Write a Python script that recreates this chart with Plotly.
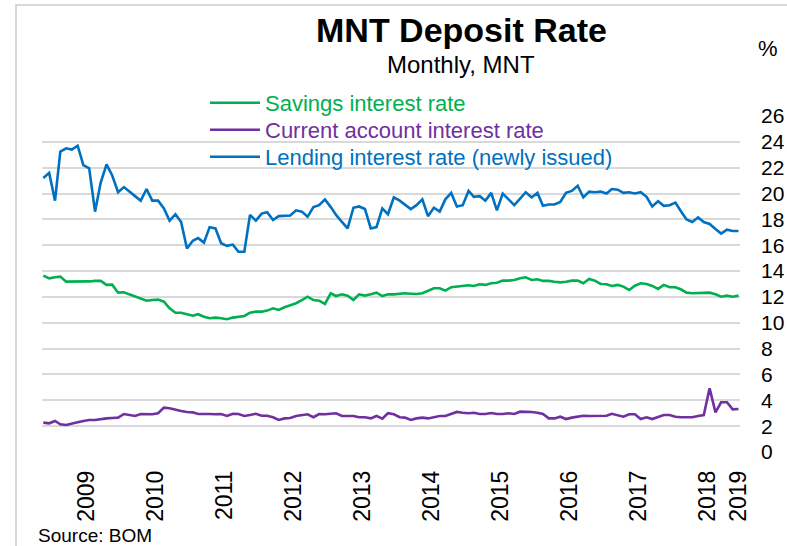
import pandas as pd
import plotly.graph_objects as go

# Monthly observations, Dec 2008 - Jan 2019 (per cent)
months = pd.date_range("2008-12-01", periods=122, freq="MS")

savings_rate = [
    13.65, 13.44, 13.52, 13.57, 13.18, 13.18, 13.16, 13.18, 13.20, 13.24,
    13.24, 12.93, 12.95, 12.33, 12.36, 12.20, 12.02, 11.84, 11.71, 11.76,
    11.79, 11.63, 11.12, 10.78, 10.78, 10.66, 10.55, 10.66, 10.47, 10.35,
    10.40, 10.35, 10.27, 10.40, 10.47, 10.53, 10.78, 10.86, 10.86, 10.94,
    11.12, 10.99, 11.20, 11.38, 11.51, 11.76, 12.02, 11.76, 11.71, 11.46,
    12.28, 12.07, 12.20, 12.10, 11.76, 12.20, 12.10, 12.20, 12.33, 12.07,
    12.20, 12.20, 12.23, 12.28, 12.25, 12.23, 12.28, 12.49, 12.67, 12.67,
    12.49, 12.75, 12.80, 12.85, 12.90, 12.85, 12.98, 12.93, 13.06, 13.10,
    13.26, 13.26, 13.31, 13.44, 13.52, 13.31, 13.37, 13.24, 13.24, 13.18,
    13.13, 13.18, 13.26, 13.26, 13.06, 13.39, 13.26, 13.00, 12.98, 12.85,
    12.93, 12.80, 12.54, 12.87, 13.06, 13.00, 12.85, 12.62, 12.93, 12.75,
    12.75, 12.59, 12.33, 12.28, 12.28, 12.33, 12.33, 12.20, 12.02, 12.10,
    12.02, 12.10,
]

current_account_rate = [
    2.27, 2.22, 2.40, 2.14, 2.09, 2.17, 2.30, 2.40, 2.48, 2.48,
    2.55, 2.60, 2.63, 2.66, 2.94, 2.86, 2.79, 2.94, 2.94, 2.92,
    3.00, 3.43, 3.38, 3.25, 3.17, 3.10, 3.07, 2.94, 2.96, 2.94,
    2.92, 2.94, 2.79, 2.96, 2.94, 2.79, 2.86, 2.96, 2.81, 2.81,
    2.69, 2.48, 2.60, 2.63, 2.79, 2.86, 2.92, 2.69, 2.94, 2.92,
    2.94, 3.00, 2.79, 2.79, 2.79, 2.69, 2.69, 2.60, 2.79, 2.58,
    3.00, 2.92, 2.69, 2.66, 2.48, 2.60, 2.66, 2.60, 2.69, 2.79,
    2.79, 2.94, 3.10, 3.04, 3.00, 3.04, 2.94, 2.94, 3.02, 2.94,
    2.94, 3.00, 2.94, 3.12, 3.12, 3.10, 3.04, 2.94, 2.60, 2.60,
    2.73, 2.55, 2.66, 2.73, 2.81, 2.79, 2.81, 2.79, 2.81, 2.96,
    2.86, 2.73, 2.92, 2.92, 2.55, 2.69, 2.55, 2.73, 2.86, 2.86,
    2.73, 2.69, 2.69, 2.69, 2.79, 2.86, 4.93, 3.07, 3.85, 3.85,
    3.30, 3.33,
]

lending_rate = [
    21.20, 21.60, 19.45, 23.25, 23.50, 23.40, 23.70, 22.20, 21.95, 18.60,
    20.85, 22.25, 21.40, 20.10, 20.50, 20.20, 19.80, 19.45, 20.35, 19.45,
    19.45, 18.85, 17.90, 18.40, 17.80, 15.75, 16.35, 16.55, 16.20, 17.40,
    17.30, 16.15, 15.95, 16.05, 15.50, 15.50, 18.35, 17.90, 18.45, 18.55,
    17.95, 18.25, 18.25, 18.30, 18.70, 18.60, 18.20, 18.95, 19.10, 19.55,
    18.95, 18.35, 17.80, 17.30, 18.90, 19.00, 18.80, 17.30, 17.40, 18.85,
    18.40, 19.70, 19.45, 19.15, 18.80, 19.10, 19.55, 18.25, 18.90, 18.60,
    19.55, 20.05, 19.00, 19.10, 20.20, 19.75, 19.80, 19.45, 20.05, 18.70,
    20.00, 19.55, 19.10, 19.60, 20.10, 19.70, 20.05, 19.05, 19.15, 19.15,
    19.35, 20.05, 20.20, 20.60, 19.70, 20.15, 20.10, 20.15, 20.00, 20.35,
    20.30, 20.05, 20.10, 20.00, 20.10, 19.75, 19.00, 19.40, 19.05, 19.10,
    19.30, 18.65, 18.00, 17.80, 18.15, 17.80, 17.65, 17.25, 16.90, 17.20,
    17.10, 17.10,
]

series_names = [
    "Savings interest rate",
    "Current account interest rate",
    "Lending interest rate (newly issued)",
]
series_colors = ["#00B050", "#7030A0", "#0070C0"]
series_values = [savings_rate, current_account_rate, lending_rate]

year_labels = [str(y) for y in range(2009, 2020)]
year_tick_dates = [f"{y}-07-20" for y in range(2009, 2019)] + ["2019-01-01"]

y_ticks = list(range(0, 27, 2))

FONT = "Liberation Sans, Arial, sans-serif"

# plot area in pixels: x 42..740, y 116..452
PLOT_L, PLOT_R, PLOT_T, PLOT_B = 42, 740, 116, 452


def px_x(x):
    return (x - PLOT_L) / (PLOT_R - PLOT_L)


def px_y(y):
    return (PLOT_B - y) / (PLOT_B - PLOT_T)


fig = go.Figure()
legend_ids = ["legend", "legend2", "legend3"]
legend_rows = [103, 130, 157]
for name, color, values, lid in zip(series_names, series_colors, series_values, legend_ids):
    fig.add_trace(
        go.Scatter(
            x=months,
            y=values,
            mode="lines",
            name=f"<span style='color:{color}'>{name}</span>",
            line=dict(color=color, width=2.6),
            legend=lid,
        )
    )

legend_common = dict(
    xanchor="left",
    yanchor="middle",
    bgcolor="rgba(0,0,0,0)",
    font=dict(size=22, family=FONT),
    itemwidth=50,
)

layout_legends = {
    lid: dict(legend_common, x=px_x(205), y=px_y(row))
    for lid, row in zip(legend_ids, legend_rows)
}

fig.update_layout(
    width=787,
    height=546,
    margin=dict(l=PLOT_L, r=787 - PLOT_R, t=PLOT_T, b=546 - PLOT_B),
    paper_bgcolor="white",
    plot_bgcolor="white",
    font=dict(family=FONT, color="black"),
    showlegend=True,
    **layout_legends,
    xaxis=dict(
        type="date",
        range=["2008-11-24", "2019-01-09"],
        tickmode="array",
        tickvals=year_tick_dates,
        ticktext=year_labels,
        tickangle=-90,
        tickfont=dict(size=23, family=FONT, color="black"),
        showgrid=False,
        zeroline=False,
        showline=False,
        ticks="",
        ticklabelstandoff=13,
        automargin=False,
    ),
    yaxis=dict(
        side="right",
        range=[0, 26],
        tickmode="array",
        tickvals=y_ticks,
        tickfont=dict(size=21, family=FONT, color="black"),
        showgrid=True,
        gridcolor="#d9d9d9",
        gridwidth=1.5,
        zeroline=False,
        showline=False,
        ticks="",
        ticklabelstandoff=20,
        automargin=False,
    ),
    shapes=[
        dict(
            type="rect",
            xref="paper",
            yref="paper",
            x0=px_x(16),
            x1=px_x(900),
            y0=px_y(700),
            y1=px_y(5),
            line=dict(color="#d9d9d9", width=2),
            fillcolor="rgba(0,0,0,0)",
            layer="below",
        )
    ],
    annotations=[
        dict(
            text="<b>MNT Deposit Rate</b>",
            x=px_x(461),
            y=px_y(30),
            xref="paper",
            yref="paper",
            xanchor="center",
            yanchor="middle",
            showarrow=False,
            font=dict(size=34, family=FONT),
        ),
        dict(
            text="Monthly, MNT",
            x=px_x(461),
            y=px_y(64),
            xref="paper",
            yref="paper",
            xanchor="center",
            yanchor="middle",
            showarrow=False,
            font=dict(size=24, family=FONT),
        ),
        dict(
            text="%",
            x=px_x(768),
            y=px_y(48),
            xref="paper",
            yref="paper",
            xanchor="center",
            yanchor="middle",
            showarrow=False,
            font=dict(size=22, family=FONT),
        ),
        dict(
            text="Source: BOM",
            x=px_x(36),
            y=px_y(535),
            xref="paper",
            yref="paper",
            xanchor="left",
            yanchor="middle",
            showarrow=False,
            font=dict(size=19, family=FONT),
        ),
    ],
)

fig.write_html("out.html")
